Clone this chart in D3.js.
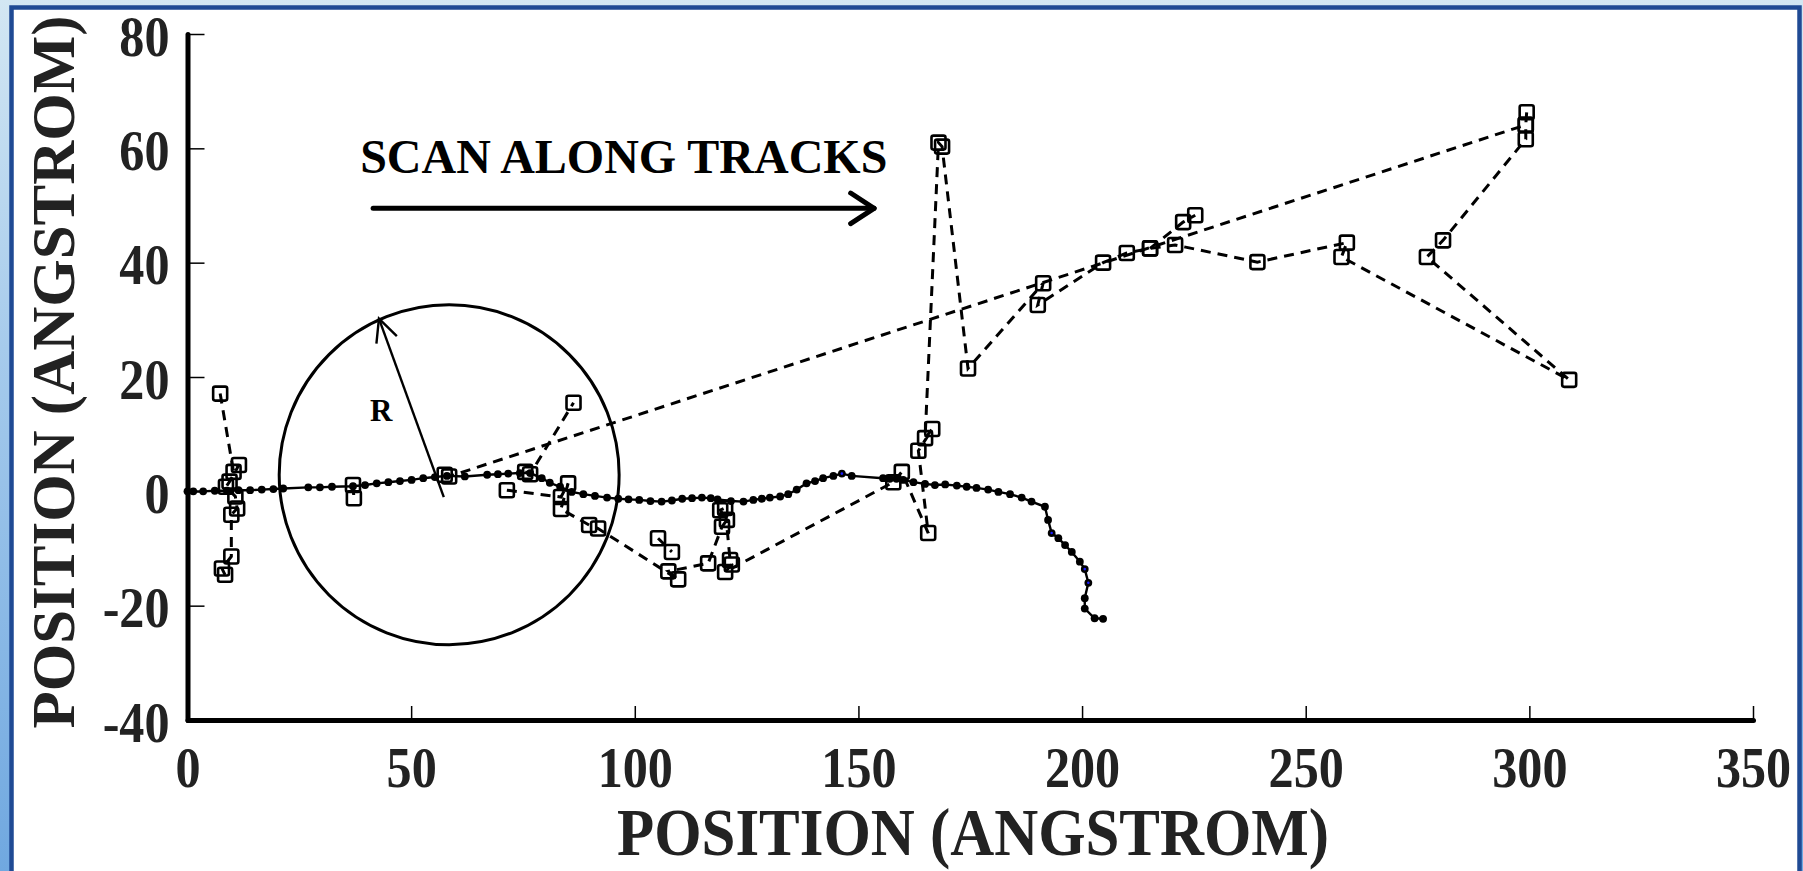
<!DOCTYPE html>
<html>
<head>
<meta charset="utf-8">
<script src="https://cdn.jsdelivr.net/npm/d3@7"></script>
<style>
  html, body { margin: 0; padding: 0; }
  body { width: 1803px; height: 871px; overflow: hidden; }
</style>
</head>
<body>
<div id="chart"></div>
<script>
// main track: solid line with filled dots
const trackX = [0, 1.3, 3.5, 6.1, 8.8, 11.4, 14, 16.6, 19.2, 21.4, 27, 29.6, 32.3, 37, 39.7, 42.3, 44.9, 47.5, 50.1, 52.7,
    55.3, 58, 62, 67, 69.4, 71.7, 74.3, 76.6, 79.2, 81, 83.3, 85.9, 88.5, 91.1, 93.8, 96.3, 98.6, 101, 103.5, 106,
    108.3, 110.6, 112.8, 115, 117, 118.5, 121.5, 124.3, 126.5, 128.4, 130.2, 132.5, 134.3, 136.2, 138.4, 140.3, 142.1, 144.4, 146.3, 148.5,
    155.5, 157, 158.5, 160, 162.3, 164.9, 167.1, 169.4, 172, 174.2, 176.4, 179, 181.3, 183.9, 186.5, 188.7, 191.7, 192.4, 193.2, 194.7,
    196.2, 197.7, 199.5, 200.6, 201.4, 200.6, 200.6, 202.8, 204.7];
const trackY = [0, 0, 0, 0.1, 0.1, 0.2, 0.2, 0.3, 0.4, 0.5, 0.7, 0.7, 0.8, 0.9, 1.1, 1.4, 1.6, 1.8, 2.0, 2.3,
    2.5, 2.7, 2.6, 2.9, 3.0, 3.1, 3.2, 3.2, 2.3, 1.5, 0.8, -0.1, -0.5, -0.8, -1.1, -1.3, -1.4, -1.5, -1.7, -1.8,
    -1.6, -1.3, -1.2, -1.1, -1.2, -1.4, -1.7, -1.8, -1.5, -1.3, -1.1, -0.9, -0.5, 0.3, 1.4, 1.8, 2.3, 2.7, 3.1, 2.7,
    2.3, 2.2, 2.2, 2.0, 1.6, 1.3, 1.1, 1.2, 1.0, 0.8, 0.6, 0.3, -0.1, -0.5, -1.1, -1.8, -2.7, -5, -7.3, -8.2,
    -9.4, -10.6, -12.3, -13.6, -16, -18.7, -20.5, -22.2, -22.3];
const blueDots = [[146.3, 3.1], [193.2, -7.3], [200.6, -13.6], [201.4, -16]];

// scan tracks: dashed lines with open squares
const scanLeft = [[7.3, 17.1], [10.3, 3.4], [11.5, 4.6], [9.4, 1.7], [8.6, 0.8], [10.7, -0.9], [11.1, -3], [9.8, -4.1],
    [9.8, -11.4], [7.7, -13.5], [8.4, -14.6]];
const scanPair = [[37, 1.1], [37.2, -1.2]];
const scanLong = [[57.5, 2.9], [58.5, 2.6], [299.2, 64.1]];
const scanUp = [[75.5, 3.4], [76.6, 3.0], [86.3, 15.5]];
const scanMid = [[71.4, 0.2], [83.5, -1], [85.1, 1.4], [83.5, -3.1], [89.8, -5.9], [91.8, -6.5], [109.7, -15.4], [107.5, -14],
    [116.4, -12.6], [119.5, -6.2], [120.6, -5], [119.1, -3.3], [120.2, -2.9], [121.3, -12], [121.7, -12.8], [120.2, -14.1],
    [157.8, 1.6], [159.7, 3.4], [165.6, -7.3], [163.4, 7.1], [166.5, 10.9], [164.9, 9.3], [167.9, 61], [168.7, 60.3],
    [174.5, 21.5], [191.3, 36.4], [190.1, 32.6], [204.7, 40], [210, 41.7], [215.2, 42.5], [220.8, 43.1], [239.2, 40.1],
    [259.2, 43.5], [258, 41], [308.9, 19.5], [277.1, 41], [280.7, 43.9], [299.2, 61.6], [299.2, 64.1], [299.4, 66.3]];
const scanShort = [[105.2, -8.2], [108.3, -10.6]];
const scanBranch = [[215.2, 42.5], [222.6, 47.1], [225.3, 48.3]];
const scanTracks = [scanLeft, scanPair, scanLong, scanUp, scanMid, scanShort, scanBranch];

const xTicks = [0, 50, 100, 150, 200, 250, 300, 350];
const yTicks = [-40, -20, 0, 20, 40, 60, 80];

// annotations (data coordinates)
const circleCenter = [58.5, 2.9];
const circleRadius = 38;          // in x units
const radiusArrow = [[57.3, -1.0], [42.8, 30.2]];
const radiusLabel = [43.3, 14.2];
const scanArrow = [[41.5, 49.5], [153.5, 49.5]];
const scanLabel = [38.6, 55.7];

const width = 1803;
const height = 871;
const font = "'Liberation Serif', 'Times New Roman', serif";

const svg = d3.select("#chart")
    .append("svg")
    .attr("width", width)
    .attr("height", height);

// slide background + white panel
const grad = svg.append("defs").append("linearGradient")
    .attr("id", "bg").attr("x1", 0).attr("y1", 0).attr("x2", 0).attr("y2", 1);
grad.append("stop").attr("offset", "0%").attr("stop-color", "#d3e7f3");
grad.append("stop").attr("offset", "40%").attr("stop-color", "#a6cbec");
grad.append("stop").attr("offset", "100%").attr("stop-color", "#70a8e0");
svg.append("rect").attr("width", width).attr("height", height).attr("fill", "url(#bg)");
svg.append("rect")
    .attr("x", 11.5).attr("y", 7.5)
    .attr("width", 1788).attr("height", 900)
    .attr("fill", "#fff")
    .attr("stroke", "#1f4a94")
    .attr("stroke-width", 4.5);

const x = d3.scaleLinear().domain([0, 350]).range([187.5, 1753]);
const y = d3.scaleLinear().domain([-40, 80]).range([720, 34]);

// circle of radius R
const r = x(circleCenter[0] + circleRadius) - x(circleCenter[0]);
svg.append("circle")
    .attr("cx", x(circleCenter[0]))
    .attr("cy", y(circleCenter[1]))
    .attr("r", r)
    .attr("fill", "none")
    .attr("stroke", "#000")
    .attr("stroke-width", 3);

// open arrow head path at tip, pointing away from "from"
function arrowHead(tip, from, len, ang) {
    const a = Math.atan2(from[1] - tip[1], from[0] - tip[0]);
    const p1 = [tip[0] + len * Math.cos(a + ang), tip[1] + len * Math.sin(a + ang)];
    const p2 = [tip[0] + len * Math.cos(a - ang), tip[1] + len * Math.sin(a - ang)];
    return `M${p1}L${tip}L${p2}`;
}

const line = d3.line().x(d => x(d[0])).y(d => y(d[1]));

// dashed scan tracks
svg.append("g")
    .selectAll("path")
    .data(scanTracks)
    .join("path")
    .attr("d", line)
    .attr("fill", "none")
    .attr("stroke", "#000")
    .attr("stroke-width", 3)
    .attr("stroke-dasharray", "10,7");

// main track
const track = trackX.map((v, i) => [v, trackY[i]]);
svg.append("path")
    .datum(track)
    .attr("d", line)
    .attr("fill", "none")
    .attr("stroke", "#000")
    .attr("stroke-width", 2.4);

svg.append("g")
    .selectAll("circle")
    .data(track)
    .join("circle")
    .attr("cx", d => x(d[0]))
    .attr("cy", d => y(d[1]))
    .attr("r", 3.9)
    .attr("fill", "#000");

svg.append("g")
    .selectAll("circle")
    .data(blueDots)
    .join("circle")
    .attr("cx", d => x(d[0]))
    .attr("cy", d => y(d[1]))
    .attr("r", 1.3)
    .attr("fill", "#1a1aff");

// open squares
const sq = 14;
svg.append("g")
    .selectAll("rect")
    .data(scanTracks.flat())
    .join("rect")
    .attr("x", d => x(d[0]) - sq / 2)
    .attr("y", d => y(d[1]) - sq / 2)
    .attr("width", sq)
    .attr("height", sq)
    .attr("rx", 2)
    .attr("fill", "none")
    .attr("stroke", "#000")
    .attr("stroke-width", 2.6);

// R arrow
const ra0 = [x(radiusArrow[0][0]), y(radiusArrow[0][1])];
const ra1 = [x(radiusArrow[1][0]), y(radiusArrow[1][1])];
svg.append("line")
    .attr("x1", ra0[0]).attr("y1", ra0[1])
    .attr("x2", ra1[0]).attr("y2", ra1[1])
    .attr("stroke", "#000").attr("stroke-width", 2.4);
svg.append("path")
    .attr("d", arrowHead(ra1, ra0, 25, 0.45))
    .attr("fill", "none").attr("stroke", "#000").attr("stroke-width", 2.4);
svg.append("text")
    .attr("x", x(radiusLabel[0]))
    .attr("y", y(radiusLabel[1]))
    .attr("text-anchor", "middle")
    .attr("dominant-baseline", "central")
    .style("font-family", font)
    .style("font-weight", "bold")
    .style("font-size", "31px")
    .text("R");

// scan arrow + label
const sa0 = [x(scanArrow[0][0]), y(scanArrow[0][1])];
const sa1 = [x(scanArrow[1][0]), y(scanArrow[1][1])];
svg.append("line")
    .attr("x1", sa0[0]).attr("y1", sa0[1])
    .attr("x2", sa1[0]).attr("y2", sa1[1])
    .attr("stroke", "#000").attr("stroke-width", 5)
    .attr("stroke-linecap", "round");
svg.append("path")
    .attr("d", arrowHead(sa1, sa0, 28, 0.58))
    .attr("fill", "none").attr("stroke", "#000").attr("stroke-width", 5)
    .attr("stroke-linecap", "round").attr("stroke-linejoin", "round");
svg.append("text")
    .attr("x", x(scanLabel[0]))
    .attr("y", y(scanLabel[1]))
    .style("font-family", font)
    .style("font-weight", "bold")
    .style("font-size", "48px")
    .text("SCAN ALONG TRACKS");

// axes (plain hyphen for negative labels, as in the original)
const sx = 0.88;
const xAxis = svg.append("g")
    .attr("transform", `translate(0,${y(-40)})`)
    .call(d3.axisBottom(x).tickValues(xTicks).tickFormat(d => String(d)).tickSizeInner(-14).tickSizeOuter(0));
xAxis.selectAll("text")
    .attr("y", 67)
    .attr("dy", 0)
    .attr("transform", `scale(${sx},1)`);

const yAxis = svg.append("g")
    .attr("transform", `translate(${x(0)},0)`)
    .call(d3.axisLeft(y).tickValues(yTicks).tickFormat(d => String(d)).tickSizeInner(-17).tickSizeOuter(0));
yAxis.selectAll("text")
    .attr("x", -18 / sx)
    .attr("y", 21)
    .attr("dy", 0)
    .attr("text-anchor", "end")
    .attr("transform", `scale(${sx},1)`);

[xAxis, yAxis].forEach(g => {
    g.select(".domain")
        .attr("stroke-width", 5)
        .attr("stroke-linecap", "round");
    g.selectAll(".tick line").attr("stroke-width", 1.5);
    g.selectAll("text")
        .style("font-family", font)
        .style("font-weight", "bold")
        .style("font-size", "57px")
        .attr("fill", "#222");
});

// axis titles
svg.append("text")
    .attr("x", 973)
    .attr("y", 855)
    .attr("text-anchor", "middle")
    .attr("textLength", 712)
    .attr("lengthAdjust", "spacingAndGlyphs")
    .style("font-family", font)
    .style("font-weight", "bold")
    .style("font-size", "68px")
    .attr("fill", "#222")
    .text("POSITION (ANGSTROM)");

svg.append("text")
    .attr("transform", "translate(74,372) rotate(-90)")
    .attr("text-anchor", "middle")
    .attr("textLength", 713)
    .attr("lengthAdjust", "spacingAndGlyphs")
    .style("font-family", font)
    .style("font-weight", "bold")
    .style("font-size", "62px")
    .attr("fill", "#222")
    .text("POSITION (ANGSTROM)");
</script>
</body>
</html>
